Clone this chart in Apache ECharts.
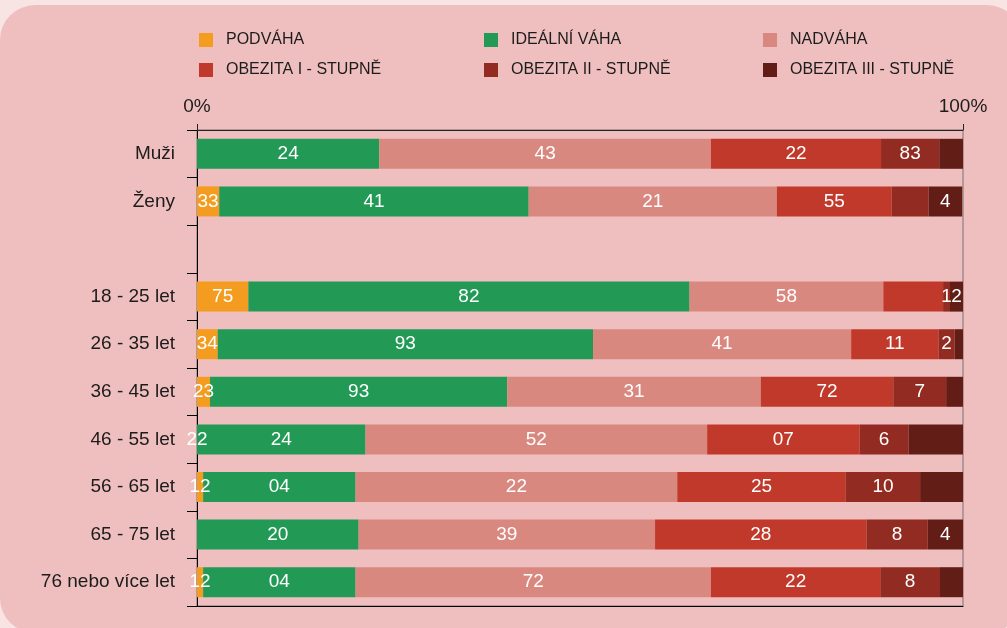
<!DOCTYPE html>
<html>
<head>
<meta charset="utf-8">
<script src="https://cdn.jsdelivr.net/npm/echarts@6/dist/echarts.min.js"></script>
<style>
  html, body { margin: 0; padding: 0; width: 1007px; height: 628px; overflow: hidden; background: #f9e4e4; }
  #panel { position: absolute; left: 0; top: 5px; width: 1022px; height: 628px; border-radius: 35px; background: #efbfbf; }
  #chart { position: absolute; left: 0; top: 0; width: 1007px; height: 628px; }
</style>
</head>
<body>
<div id="panel"></div>
<div id="chart"></div>
<script>
const categories = ['Muži', 'Ženy', '', '18 - 25 let', '26 - 35 let', '36 - 45 let', '46 - 55 let', '56 - 65 let', '65 - 75 let', '76 nebo více let'];
const seriesNames = ['PODVÁHA', 'IDEÁLNÍ VÁHA', 'NADVÁHA', 'OBEZITA I - STUPNĚ', 'OBEZITA II - STUPNĚ', 'OBEZITA III - STUPNĚ'];
const colors = ['#f39c1f', '#229a55', '#d98880', '#c0392b', '#922b21', '#621e16'];

const podvaha = [0, 2.9, '-', 6.7, 2.7, 1.7, 0, 0.8, 0, 0.8];
const idealni = [23.8, 40.4, '-', 57.6, 49.0, 38.8, 22.0, 19.9, 21.1, 19.9];
const nadvaha = [43.3, 32.4, '-', 25.3, 33.7, 33.1, 44.6, 42.0, 38.7, 46.4];
const obezita1 = [22.2, 15.0, '-', 7.8, 11.4, 17.3, 19.9, 22.0, 27.6, 22.1];
const obezita2 = [7.6, 4.8, '-', 0.9, 2.1, 6.9, 6.4, 9.7, 8.0, 7.8];
const obezita3 = [3.1, 4.4, '-', 1.7, 1.1, 2.2, 7.1, 5.6, 4.6, 3.0];

const podvahaLabels = ['', '33', '', '75', '34', '23', '22', '12', '', '12'];
const idealniLabels = ['24', '41', '', '82', '93', '93', '24', '04', '20', '04'];
const nadvahaLabels = ['43', '21', '', '58', '41', '31', '52', '22', '39', '72'];
const obezita1Labels = ['22', '55', '', '', '11', '72', '07', '25', '28', '22'];
const obezita2Labels = ['83', '', '', '1', '2', '7', '6', '10', '8', '8'];
const obezita3Labels = ['', '4', '', '2', '', '', '', '', '4', ''];

const axisTicks = ['0%', '100%'];

const allData = [podvaha, idealni, nadvaha, obezita1, obezita2, obezita3];
const allLabels = [podvahaLabels, idealniLabels, nadvahaLabels, obezita1Labels, obezita2Labels, obezita3Labels];

const FONT = "'Liberation Sans', Arial, Helvetica, sans-serif";

const legendPos = [
  { left: 199, top: 32 }, { left: 484, top: 32 }, { left: 763, top: 32 },
  { left: 199, top: 62 }, { left: 484, top: 62 }, { left: 763, top: 62 }
];

const chart = echarts.init(document.getElementById('chart'), null, { renderer: 'canvas' });

const option = {
  backgroundColor: 'transparent',
  animation: false,
  color: colors,
  legend: seriesNames.map((n, i) => ({
    data: [n],
    left: legendPos[i].left,
    top: legendPos[i].top,
    padding: 0,
    icon: 'rect',
    itemWidth: 14,
    itemHeight: 14,
    selectedMode: false,
    textStyle: { fontFamily: FONT, fontSize: 16, color: '#1c1c1c', padding: [0, 0, 0, 8] }
  })),
  grid: {
    left: 197, right: 44, top: 130, bottom: 22,
    show: true, borderColor: '#7a7070', borderWidth: 1, backgroundColor: 'transparent'
  },
  xAxis: [
    {
      type: 'value', position: 'top', min: 0, max: 100, interval: 100,
      axisLine: { show: true, lineStyle: { color: '#222', width: 1 } },
      axisTick: { show: true, length: 6, lineStyle: { color: '#222' } },
      splitLine: { show: false },
      axisLabel: {
        fontFamily: FONT, fontSize: 19, color: '#1c1c1c', margin: 14,
        formatter: v => (v === 0 ? axisTicks[0] : axisTicks[1])
      }
    },
    {
      type: 'value', position: 'bottom', min: 0, max: 100,
      axisLine: { show: true, lineStyle: { color: '#000', width: 1 } },
      axisTick: { show: false }, axisLabel: { show: false }, splitLine: { show: false }
    }
  ],
  yAxis: {
    type: 'category', inverse: true, data: categories,
    axisLine: { show: true, lineStyle: { color: '#000', width: 1 } },
    axisTick: { show: true, length: 10, lineStyle: { color: '#000' } },
    axisLabel: { fontFamily: FONT, fontSize: 19, color: '#1c1c1c', margin: 22 },
    splitLine: { show: false }
  },
  series: seriesNames.map((n, i) => ({
    name: n,
    type: 'bar',
    stack: 'total',
    xAxisIndex: 0,
    barWidth: 30,
    data: allData[i],
    itemStyle: { color: colors[i] },
    label: {
      show: true, position: 'inside', color: '#ffffff',
      fontFamily: FONT, fontSize: 19,
      formatter: p => allLabels[i][p.dataIndex]
    },
    emphasis: { disabled: true }
  }))
};

chart.setOption(option);
</script>
</body>
</html>
